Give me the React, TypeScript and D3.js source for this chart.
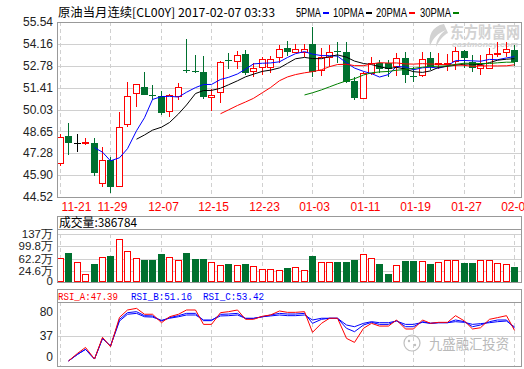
import * as d3 from 'd3'

const dateLabels = ['11-21', '11-29', '12-07', '12-15', '12-23', '01-03', '01-11', '01-19', '01-27', '02-06']

const opens = [46.64, 48.36, 47.94, 47.99, 47.94, 45.42, 46.85, 45.21, 49.10, 51.05, 51.43, 50.96, 50.88, 49.93, 50.88, 52.50, 52.45, 52.37, 50.80, 51.11, 53.17, 53.10, 53.53, 52.47, 52.69, 52.69, 53.32, 53.88, 53.67, 53.67, 54.15, 52.52, 53.36, 53.71, 53.67, 51.84, 50.78, 52.31, 52.94, 52.98, 52.77, 53.29, 52.12, 52.21, 53.29, 52.92, 52.92, 53.10, 53.71, 53.04, 52.62, 52.66, 53.55, 53.67, 53.78]
const highs = [48.49, 49.20, 48.49, 48.22, 48.22, 47.65, 47.06, 49.89, 51.78, 51.66, 52.37, 51.57, 51.21, 51.00, 51.68, 54.45, 53.46, 53.40, 51.30, 53.10, 53.57, 53.71, 53.78, 52.94, 53.32, 53.40, 54.09, 54.36, 54.15, 54.15, 55.24, 53.88, 54.09, 54.30, 54.30, 52.10, 52.41, 53.36, 53.15, 53.15, 53.57, 53.63, 52.73, 53.67, 53.63, 53.57, 53.50, 53.99, 53.75, 53.46, 53.46, 53.88, 54.30, 54.30, 54.09]
const lows = [46.47, 47.17, 47.37, 47.79, 45.84, 45.13, 44.79, 45.17, 48.95, 50.17, 50.93, 50.63, 49.68, 49.58, 50.63, 52.31, 52.31, 50.67, 49.96, 50.46, 52.56, 52.56, 52.21, 52.06, 52.21, 52.31, 52.98, 53.40, 53.57, 53.36, 52.10, 52.14, 52.73, 52.94, 51.68, 50.63, 50.67, 52.21, 52.31, 52.10, 52.14, 51.72, 51.78, 52.10, 52.52, 52.56, 52.45, 52.52, 52.62, 52.41, 52.21, 52.62, 53.36, 53.36, 52.77]
const closes = [48.28, 47.90, 47.94, 48.01, 46.01, 46.85, 45.17, 48.91, 50.88, 51.64, 50.96, 50.92, 49.83, 50.94, 51.43, 52.46, 52.39, 50.80, 50.96, 53.00, 53.12, 53.46, 52.31, 52.62, 53.21, 53.21, 53.82, 53.67, 53.82, 53.86, 52.41, 53.36, 53.67, 53.65, 51.78, 50.74, 52.31, 52.98, 52.56, 52.56, 53.25, 52.21, 52.08, 53.19, 52.73, 52.96, 52.95, 53.69, 53.25, 52.62, 52.83, 53.53, 53.59, 53.82, 53.04]

// volume in 万
const volumes = [63.8, 78.8, 53.5, 15.6, 45.7, 68.6, 70.7, 121.0, 86.7, 63.8, 58.6, 58.6, 75.8, 68.6, 57.7, 78.8, 61.7, 61.7, 51.7, 42.7, 45.7, 42.7, 45.7, 40.6, 30.6, 30.6, 27.6, 35.4, 37.6, 28.5, 70.7, 51.7, 51.7, 52.6, 52.6, 58.6, 75.8, 63.8, 46.6, 16.5, 42.7, 55.6, 55.6, 54.7, 46.6, 51.7, 57.7, 57.7, 49.6, 49.6, 57.7, 57.7, 48.7, 45.7, 38.68]

const rsiA = [null, -7, 6.5, 17, -3.6, 35, 18.3, 70.5, 83.6, 86.5, 76, 76, 61, 71.6, 76, 83.6, 83.6, 58, 58, 78.8, 80.6, 83.6, 67, 67, 72.5, 74.7, 81.8, 79.4, 79.4, 80.6, 43.8, 59.9, 68.9, 68.9, 33.1, 26, 51, 59.9, 55, 55, 65.8, 49.8, 49.8, 65.8, 59.9, 61.6, 61.6, 73.5, 64, 49.8, 52, 67, 70, 73.5, 47.39]
const rsiB = [null, -7, 4.7, 13.6, -3.6, 33, 19.5, 67, 78.8, 80.6, 73.5, 73, 64, 70, 73.5, 77.6, 77.6, 64.6, 64.6, 75.8, 76.4, 77.6, 68.7, 68.7, 71.6, 74.7, 77.6, 76.4, 76.4, 77.6, 59.9, 67, 68.9, 68.9, 51, 45, 56.9, 61.6, 58, 58, 64.6, 53.9, 53.9, 62.8, 59.9, 61, 61, 65.8, 62.8, 53.9, 56.9, 62.8, 65.8, 65.8, 51.16]
const rsiC = [null, -7, 4.7, 13.6, -3.6, 33, 19.5, 64, 76, 77.6, 71.6, 71, 65.2, 68.9, 71.6, 74.7, 74.7, 65.8, 65.8, 73, 73.5, 74.7, 68.7, 68.7, 71.6, 73, 74.7, 73.5, 73.5, 74.7, 65.8, 68.9, 68.9, 68.9, 56.9, 53.9, 59.9, 62.8, 61, 61, 64, 58, 58, 61.6, 59.9, 61, 61, 62.8, 61.6, 58, 59.3, 61, 62.8, 64, 53.42]

const priceTicks = [55.54, 54.16, 52.78, 51.41, 50.03, 48.65, 47.28, 45.90, 44.52]
const volTicks = [137, 99.8, 62.2, 24.6]
const volTickLabels = ['137万', '99.8万', '62.2万', '24.6万']
const rsiTicks = [80, 37, 0]

const maDefs = [
  { n: 5, label: '5PMA', color: '#0000ff' },
  { n: 10, label: '10PMA', color: '#000000' },
  { n: 20, label: '20PMA', color: '#ff0000' },
  { n: 30, label: '30PMA', color: '#008000' },
]

const UP = '#ff0000'
const DOWN = '#00702f'
const FRAME = '#999999'
const GRID = '#d0d0d0'

function movingAvg(values: number[], n: number) {
  return values.map((_, i) => (i < n - 1 ? null : (d3.mean(values.slice(i - n + 1, i + 1)) as number)))
}

export default function App() {
  const L = 57.5
  const R = 521.5
  const n = closes.length

  const x = d3.scalePoint<number>().domain(d3.range(n)).range([60, 514])
  const cx = (i: number) => Math.round(x(i) as number)

  const y = d3.scaleLinear().domain([44.52, 55.54]).range([197, 22])
  const yv = d3.scaleLinear().domain([-7.6, 137]).range([282, 234])
  const yr = d3.scaleLinear().domain([-16, 97.8]).range([366, 302])

  const gridIdx = d3.range(0, n, 6)

  const maLine = d3
    .line<number | null>()
    .defined((d) => d != null)
    .x((_, i) => cx(i) + 0.5)
    .y((d) => y(d as number))
  const mas = maDefs.map((m) => ({ ...m, path: maLine(movingAvg(closes, m.n)) || '' }))

  const rsiLine = d3
    .line<number | null>()
    .defined((d) => d != null)
    .x((_, i) => cx(i) + 0.5)
    .y((d) => yr(d as number))

  const legendX = [296, 333, 376, 420]
  const legendW = [25, 31, 31, 31]

  return (
    <svg
      width={524}
      height={369}
      style={{ position: 'absolute', left: 0, top: 0, background: '#fff' }}
      fontFamily="'Liberation Sans', Arial, sans-serif"
    >
      {/* title + MA legend */}
      <text x={58} y={17} fontSize={12} fontFamily="'Noto Sans CJK SC', sans-serif" textLength={217} lengthAdjust="spacingAndGlyphs">
        原油当月连续[CL00Y] 2017-02-07 03:33
      </text>
      {maDefs.map((m, k) => (
        <g key={m.label}>
          <text x={legendX[k]} y={17} fontSize={12} textLength={legendW[k]} lengthAdjust="spacingAndGlyphs">
            {m.label}
          </text>
          <rect x={legendX[k] + legendW[k] + 2} y={12} width={6} height={2} fill={m.color} />
        </g>
      ))}

      {/* eastmoney watermark */}
      <g fill="#d2d2d2">
        <path d="M444,24 C432,26 428,36 430,46 C433,38 438,33 446,30 C440,34 436,40 436,47 C440,39 444,35 448,33 Z" />
        <text x={450} y={38} fontSize={16} fontWeight="bold" fontFamily="'Noto Sans CJK SC', sans-serif" textLength={70} lengthAdjust="spacingAndGlyphs">
          东方财富网
        </text>
        <text x={452} y={47} fontSize={7} fontWeight="bold" fontStyle="italic" textLength={66} lengthAdjust="spacingAndGlyphs">
          eastmoney.com
        </text>
      </g>

      {/* main panel grid */}
      {priceTicks.slice(1, -1).map((t) => (
        <line key={t} x1={L} x2={R} y1={Math.round(y(t)) + 0.5} y2={Math.round(y(t)) + 0.5} stroke={GRID} />
      ))}
      {gridIdx.map((i) => (
        <line key={i} x1={cx(i) + 0.5} x2={cx(i) + 0.5} y1={22} y2={197} stroke={GRID} strokeDasharray="4,3" />
      ))}
      {priceTicks.map((t) => (
        <text key={t} x={53} y={y(t)} dy="0.35em" textAnchor="end" fontSize={12} fill="#222">
          {t.toFixed(2)}
        </text>
      ))}

      {/* candles */}
      <g shapeRendering="crispEdges">
        {closes.map((c, i) => {
          const o = opens[i]
          const X = cx(i)
          const top = Math.round(y(Math.max(o, c)))
          const bot = Math.round(y(Math.min(o, c)))
          const hi = Math.round(y(highs[i]))
          const lo = Math.round(y(lows[i]))
          if (c > o) {
            return (
              <g key={i}>
                <line x1={X + 0.5} x2={X + 0.5} y1={hi} y2={top} stroke={UP} />
                <line x1={X + 0.5} x2={X + 0.5} y1={bot} y2={lo} stroke={UP} />
                <rect x={X - 2.5} y={top + 0.5} width={6} height={Math.max(bot - top, 1)} fill="#fff" stroke={UP} />
              </g>
            )
          }
          const col = c < o ? DOWN : '#000'
          return (
            <g key={i}>
              <line x1={X + 0.5} x2={X + 0.5} y1={hi} y2={lo} stroke={col} />
              <rect x={X - 3} y={top} width={7} height={Math.max(bot - top, 1)} fill={col} />
            </g>
          )
        })}
      </g>

      {/* moving averages */}
      {mas.map((m) => (
        <path key={m.label} d={m.path} fill="none" stroke={m.color} strokeWidth={1} />
      ))}

      {/* main frame */}
      <g stroke={FRAME} fill="none" shapeRendering="crispEdges">
        <line x1={L} x2={R} y1={22.5} y2={22.5} />
        <line x1={L} x2={R} y1={197.5} y2={197.5} />
        <line x1={L} x2={L} y1={22} y2={198} />
        <line x1={R} x2={R} y1={22} y2={198} />
      </g>

      {/* date labels */}
      {gridIdx.map((i, k) => (
        <text key={i} x={Math.max(cx(i) + 2.5, 76.5)} y={211} textAnchor="middle" fontSize={12} fill="#ff0000">
          {dateLabels[k]}
        </text>
      ))}

      {/* volume panel */}
      {volTicks.slice(1).map((t) => (
        <line key={t} x1={L} x2={R} y1={Math.round(yv(t)) + 0.5} y2={Math.round(yv(t)) + 0.5} stroke={GRID} />
      ))}
      <line x1={L} x2={R} y1={234.5} y2={234.5} stroke={GRID} />
      {gridIdx.map((i) => (
        <line key={i} x1={cx(i) + 0.5} x2={cx(i) + 0.5} y1={234} y2={282} stroke={GRID} strokeDasharray="4,3" />
      ))}
      <g shapeRendering="crispEdges">
        {volumes.map((v, i) => {
          const X = cx(i)
          const top = Math.round(yv(v))
          const base = Math.round(yv(-7.6))
          return closes[i] >= opens[i] ? (
            <rect key={i} x={X - 2.5} y={top + 0.5} width={6} height={base - top - 1} fill="#fff" stroke={UP} />
          ) : (
            <rect key={i} x={X - 3} y={top} width={7} height={base - top} fill={DOWN} />
          )
        })}
      </g>
      {volTicks.map((t, k) => (
        <text key={t} x={53} y={yv(t)} dy="0.35em" textAnchor="end" fontSize={11.5} fill="#222">
          {volTickLabels[k]}
        </text>
      ))}
      <text x={53} y={281} dy="0.35em" textAnchor="end" fontSize={11.5} fill="#222">0</text>
      <g stroke={FRAME} fill="none" shapeRendering="crispEdges">
        <rect x={L} y={216.5} width={R - L} height={65.5} />
        <line x1={L} x2={R} y1={229.5} y2={229.5} />
      </g>
      <text x={59} y={227} fontSize={12} fontFamily="'Noto Sans CJK SC', sans-serif" textLength={78} lengthAdjust="spacingAndGlyphs">
        成交量:386784
      </text>

      {/* RSI panel */}
      <line x1={L} x2={R} y1={Math.round(yr(37)) + 0.5} y2={Math.round(yr(37)) + 0.5} stroke={GRID} />
      {gridIdx.map((i) => (
        <line key={i} x1={cx(i) + 0.5} x2={cx(i) + 0.5} y1={302} y2={366} stroke={GRID} strokeDasharray="4,3" />
      ))}
      <path d={rsiLine(rsiC) || ''} fill="none" stroke="#0000ff" />
      <path d={rsiLine(rsiB) || ''} fill="none" stroke="#0000ff" />
      <path d={rsiLine(rsiA) || ''} fill="none" stroke="#ff0000" />
      {rsiTicks.map((t) => (
        <text key={t} x={53} y={yr(t)} dy="0.35em" textAnchor="end" fontSize={12} fill="#222">
          {t}
        </text>
      ))}
      <g stroke={FRAME} fill="none" shapeRendering="crispEdges">
        <rect x={L} y={289.5} width={R - L} height={77} />
        <line x1={L} x2={R} y1={302.5} y2={302.5} />
      </g>
      <g fontSize={11} fontFamily="'Liberation Mono', monospace">
        <text x={58} y={300} fill="#ff0000" textLength={60} lengthAdjust="spacingAndGlyphs">RSI_A:47.39</text>
        <text x={131} y={300} fill="#0000ff" textLength={61} lengthAdjust="spacingAndGlyphs">RSI_B:51.16</text>
        <text x={203} y={300} fill="#0000ff" textLength={61} lengthAdjust="spacingAndGlyphs">RSI_C:53.42</text>
      </g>

      {/* bottom watermark */}
      <g opacity={0.8}>
        <circle cx={412} cy={343} r={8} fill="none" stroke="#b0b0b0" strokeWidth={1.2} />
        <circle cx={409} cy={341} r={1.2} fill="#b0b0b0" />
        <circle cx={415} cy={345} r={1.2} fill="#b0b0b0" />
        <text x={429} y={349} fontSize={14} fill="#a8a8a8" fontFamily="'Noto Sans CJK SC', sans-serif" textLength={80} lengthAdjust="spacingAndGlyphs">
          九盛融汇投资
        </text>
      </g>
    </svg>
  )
}
